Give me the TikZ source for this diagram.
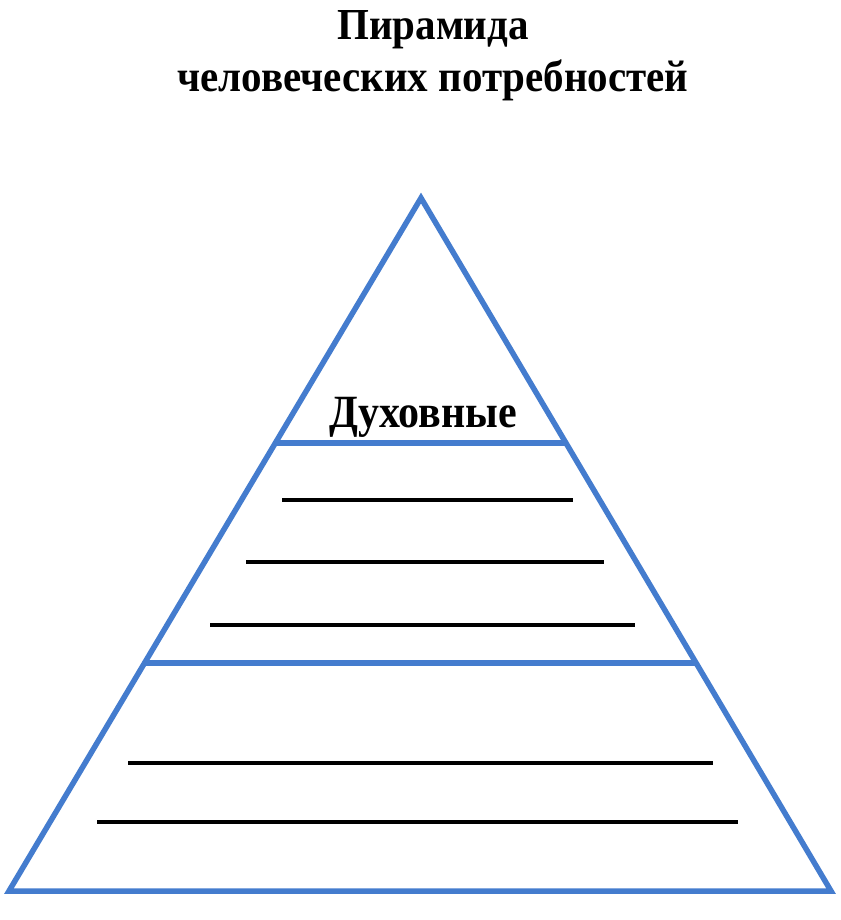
\documentclass[tikz,border=0pt]{standalone}
\usepackage{fontspec}
\setmainfont{Liberation Serif}
\definecolor{pyrblue}{RGB}{68,124,206}
\begin{document}
\begin{tikzpicture}[x=1pt,y=-1pt,
  edge/.style={draw=pyrblue,line width=5.5pt,line join=miter},
  tier/.style={draw=pyrblue,line width=5.5pt},
  blank/.style={draw=black,line width=3.2pt},
  ttl/.style={font=\bfseries\fontsize{41}{44}\selectfont,inner sep=0pt,anchor=base,yscale=1.08},
  lbl/.style={font=\bfseries\fontsize{42}{46}\selectfont,inner sep=0pt,anchor=base,yscale=1.1}]
\useasboundingbox[fill=white] (0,0) rectangle (840,920);
\coordinate (apex) at (421,198);
\coordinate (bl) at (9,891);
\coordinate (br) at (831,891);
\draw[edge] (apex) -- (bl) -- (br) -- cycle;
\coordinate (t1l) at (276,443); \coordinate (t1r) at (566,443);
\coordinate (t2l) at (145,663); \coordinate (t2r) at (697,663);
\draw[tier] (t1l) -- (t1r);
\draw[tier] (t2l) -- (t2r);
\coordinate (a1) at (282,500); \coordinate (a2) at (573,500);
\coordinate (b1) at (246,562); \coordinate (b2) at (604,562);
\coordinate (c1) at (210,625); \coordinate (c2) at (635,625);
\coordinate (d1) at (128,763); \coordinate (d2) at (713,763);
\coordinate (e1) at (97,822); \coordinate (e2) at (738,822);
\draw[blank] (a1) -- (a2);
\draw[blank] (b1) -- (b2);
\draw[blank] (c1) -- (c2);
\draw[blank] (d1) -- (d2);
\draw[blank] (e1) -- (e2);
\node[ttl] (title1) at (433,40) {Пирамида};
\node[ttl] (title2) at (433,92) {человеческих потребностей};
\node[lbl] (spirit) at (423,427) {Духовные};
\end{tikzpicture}
\end{document}
